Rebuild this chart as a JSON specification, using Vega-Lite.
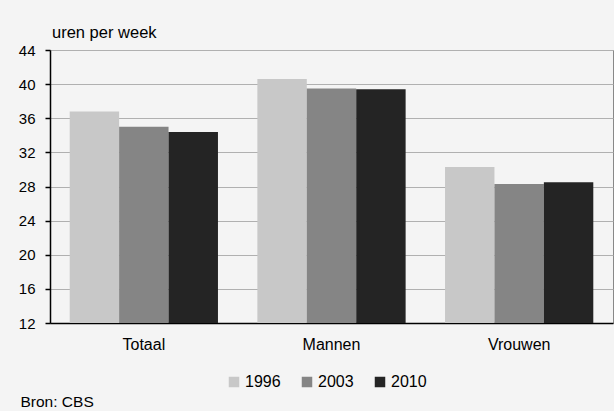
{
  "$schema": "https://vega.github.io/schema/vega-lite/v6.json",
  "width": 563,
  "height": 273,
  "autosize": {"type": "none"},
  "padding": {"left": 50, "top": 50, "right": 1, "bottom": 88},
  "background": "#f4f4f4",
  "title": {"text": "uren per week", "anchor": "start", "frame": "group", "offset": 2, "dx": 2, "fontSize": 16.5, "fontWeight": "normal", "font": "Liberation Sans", "color": "#000"},
  "data": {"values": [
    {"groep": "Totaal", "jaar": "1996", "uren": 36.8},
    {"groep": "Totaal", "jaar": "2003", "uren": 35.0},
    {"groep": "Totaal", "jaar": "2010", "uren": 34.4},
    {"groep": "Mannen", "jaar": "1996", "uren": 40.6},
    {"groep": "Mannen", "jaar": "2003", "uren": 39.5},
    {"groep": "Mannen", "jaar": "2010", "uren": 39.4},
    {"groep": "Vrouwen", "jaar": "1996", "uren": 30.3},
    {"groep": "Vrouwen", "jaar": "2003", "uren": 28.3},
    {"groep": "Vrouwen", "jaar": "2010", "uren": 28.5}
  ]},
  "mark": {"type": "bar", "clip": true},
  "encoding": {
    "x": {"field": "groep", "type": "nominal", "sort": ["Totaal", "Mannen", "Vrouwen"],
      "scale": {"paddingInner": 0.21, "paddingOuter": 0.105},
      "axis": {"title": "Bron: CBS", "titleX": -30, "titleY": 78, "titleAnchor": "start", "titleAlign": "left", "titleBaseline": "middle", "titleFontSize": 15.5, "titleFontWeight": "normal", "titleFont": "Liberation Sans", "titleColor": "#000",
        "labelAngle": 0, "ticks": false, "labelPadding": 13, "labelFontSize": 16, "labelFont": "Liberation Sans", "labelColor": "#000", "domainColor": "#000", "domainWidth": 1.5, "grid": false}},
    "xOffset": {"field": "jaar", "type": "nominal", "scale": {"paddingInner": 0, "paddingOuter": 0}},
    "y": {"field": "uren", "type": "quantitative", "scale": {"domain": [12, 44], "zero": false, "nice": false},
      "axis": {"title": null, "values": [12, 16, 20, 24, 28, 32, 36, 40, 44], "tickSize": 5, "tickColor": "#000", "tickWidth": 1.5, "labelPadding": 10, "labelFontSize": 15, "labelFont": "Liberation Sans", "labelColor": "#000", "domainColor": "#000", "domainWidth": 1.5, "gridColor": "#b0b0b0", "gridWidth": 1.2}},
    "color": {"field": "jaar", "type": "nominal",
      "scale": {"domain": ["1996", "2003", "2010"], "range": ["#c8c8c8", "#858585", "#242424"]},
      "legend": {"title": null, "orient": "none", "direction": "horizontal", "legendX": 176, "legendY": 324, "symbolType": "square", "symbolSize": 110, "symbolStrokeWidth": 0, "symbolOpacity": 1, "labelFontSize": 16, "labelFont": "Liberation Sans", "labelColor": "#000", "labelOffset": 3, "columnPadding": 18}}
  },
  "config": {"view": {"stroke": "#888", "strokeWidth": 1}}
}
